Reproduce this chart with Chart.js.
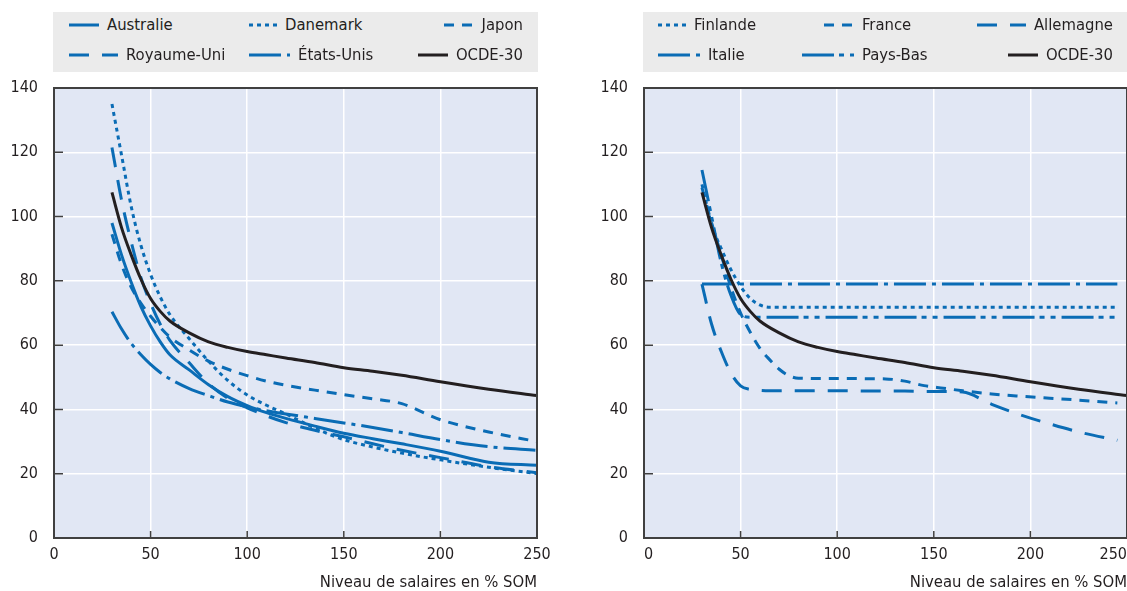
<!DOCTYPE html>
<html>
<head>
<meta charset="utf-8">
<script src="https://cdn.jsdelivr.net/npm/chart.js@4.4.1/dist/chart.umd.min.js"></script>
<style>
  html, body { margin: 0; padding: 0; background: #fff; }
  body { width: 1127px; height: 591px; position: relative; overflow: hidden;
         font-family: 'DejaVu Sans Condensed', 'Liberation Sans', sans-serif; color: #231f20; }
  .panel { position: absolute; top: 0; height: 591px; }
  .panel > canvas { position: absolute; left: 0; top: 0; }
  .legend { position: absolute; top: 12px; height: 60px; background: #ebebeb; z-index: 2; box-sizing: border-box; }
  .legend .grid { display: grid; grid-template-rows: 30px 30px; margin-top: -2px; align-items: center;
                  font-size: 16.5px; line-height: 20px; }
  .item { display: flex; align-items: center; white-space: nowrap; }
  .sw { display: inline-flex; margin-right: 8px; }
  .sw canvas { display: block; }
</style>
</head>
<body>
<div class="panel" style="left:0;width:560px">
  <canvas id="chartG" width="560" height="591"></canvas>
  <div class="legend" style="left:53px;width:485px"><div class="grid" id="legG" style="grid-template-columns:180px 1fr auto;padding:0 15px 0 16px"></div></div>
</div>
<div class="panel" style="left:590px;width:537px">
  <canvas id="chartD" width="537" height="591"></canvas>
  <div class="legend" style="left:53px;width:484px"><div class="grid" id="legD" style="grid-template-columns:142px 1fr auto;padding:0 14px 0 15px"></div></div>
</div>
<script>
// valeurs (niveau de salaire en % du SOM)
const xTicks = [0, 50, 100, 150, 200, 250];
const yTicks = [0, 20, 40, 60, 80, 100, 120, 140];

// panneau gauche
const salaireG   = [30, 35, 40, 45, 50, 55, 60, 70, 80, 90, 100, 110, 120, 135, 150, 165, 180, 200, 225, 250];
const ocde30     = [107.5, 96.5, 88, 80.5, 74.5, 70.5, 67.5, 63.8, 61, 59.3, 58, 57, 56, 54.6, 53, 51.9, 50.6, 48.6, 46.3, 44.3];
const australie  = [98, 88, 79.5, 72, 66, 61, 57, 52.3, 47.7, 44, 41.2, 39, 37.2, 34.8, 32.6, 30.9, 29.3, 27, 23.6, 22.6];
const danemark   = [135, 119, 103, 91, 82, 75, 69.5, 62, 55, 49, 44.5, 41.3, 38.6, 34.2, 30.6, 28.3, 26.4, 24.3, 22, 20];
const japon      = [94.5, 85, 78, 73, 69, 65.5, 62.5, 58.5, 55, 52.5, 50.5, 48.8, 47.5, 46, 44.6, 43.3, 41.8, 36.8, 33, 30];
const royaumeUni = [121.5, 105, 92, 81, 73, 66.5, 61.5, 54.5, 48, 43.5, 40.5, 38, 35.9, 33.5, 31.5, 29.3, 27.3, 25, 22.2, 20.3];
const etatsUnis  = [70.4, 65, 60.5, 57, 54, 51.5, 49.5, 46.5, 44.3, 42.3, 40.8, 39.6, 38.6, 37.2, 35.8, 34.4, 32.8, 30.6, 28.4, 27.3];

// panneau droit
const salaireD   = [30, 35, 40, 45, 50, 55, 60, 65, 70, 75, 80, 100, 125, 135, 145, 155, 165, 180, 195, 210, 225, 245];
const finlande   = [110, 97.5, 90, 83.5, 78.3, 74.5, 72.5, 71.8, 71.8, 71.8, 71.8, 71.8, 71.8, 71.8, 71.8, 71.8, 71.8, 71.8, 71.8, 71.8, 71.8, 71.8];
const france     = [109, 98, 88, 78, 70, 64, 59, 55.5, 52.5, 50.5, 49.7, 49.6, 49.5, 48.8, 47.4, 46.6, 45.8, 44.8, 44.1, 43.5, 42.9, 42];
const allemagne  = [79, 66.5, 58, 51.3, 47.3, 46.2, 45.9, 45.8, 45.8, 45.8, 45.8, 45.8, 45.7, 45.7, 45.6, 45.6, 45.4, 41.6, 38.3, 35.5, 33, 30.4];
const italie     = [79, 79, 79, 79, 79, 79, 79, 79, 79, 79, 79, 79, 79, 79, 79, 79, 79, 79, 79, 79, 79, 79];
const paysBas    = [114.5, 100, 85.5, 75.5, 69.5, 68.7, 68.7, 68.7, 68.7, 68.7, 68.7, 68.7, 68.7, 68.7, 68.7, 68.7, 68.7, 68.7, 68.7, 68.7, 68.7, 68.7];

const legendG = ['Australie', 'Danemark', 'Japon', 'Royaume-Uni', 'États-Unis', 'OCDE-30'];
const legendD = ['Finlande', 'France', 'Allemagne', 'Italie', 'Pays-Bas', 'OCDE-30'];

const BLUE = '#0a6cb5', BLACK = '#231f20', TEXT = '#231f20';
const PLOT_BG = '#e1e7f4', FRAME = '#404040';
const FONT = "'DejaVu Sans Condensed', 'Liberation Sans', sans-serif";

const styles = {
  'Australie':   { color: BLUE,  dash: [],                  swatch: 30 },
  'Danemark':    { color: BLUE,  dash: [4, 4],              swatch: 28 },
  'Japon':       { color: BLUE,  dash: [10, 8],             swatch: 30 },
  'Royaume-Uni': { color: BLUE,  dash: [20, 13],            swatch: 49 },
  'États-Unis':  { color: BLUE,  dash: [32, 6, 4, 6],       swatch: 41 },
  'OCDE-30':     { color: BLACK, dash: [],                  swatch: 30 },
  'Finlande':    { color: BLUE,  dash: [4, 4],              swatch: 28 },
  'France':      { color: BLUE,  dash: [10, 8],             swatch: 30 },
  'Allemagne':   { color: BLUE,  dash: [20, 13],            swatch: 49 },
  'Italie':      { color: BLUE,  dash: [32, 6, 4, 6],       swatch: 42 },
  'Pays-Bas':    { color: BLUE,  dash: [32, 5, 5, 6, 5, 6], swatch: 52 }
};

Chart.defaults.font.family = FONT;
Chart.defaults.font.size = 16;
Chart.defaults.color = TEXT;

// fond, cadre et petites graduations intérieures
const frame = {
  id: 'frame',
  beforeDraw(chart) {
    const { ctx, chartArea: a } = chart;
    ctx.save();
    ctx.fillStyle = PLOT_BG;
    ctx.fillRect(a.left, a.top, a.width, a.height);
    ctx.restore();
  },
  afterDatasetsDraw(chart) {
    const { ctx, chartArea: a, scales: { x, y } } = chart;
    ctx.save();
    ctx.strokeStyle = FRAME;
    ctx.lineWidth = 1.5;
    ctx.beginPath();
    y.ticks.forEach((t, i) => { const py = y.getPixelForTick(i); ctx.moveTo(a.left, py); ctx.lineTo(a.left + 9, py); });
    x.ticks.forEach((t, i) => { const px = x.getPixelForTick(i); ctx.moveTo(px, a.bottom); ctx.lineTo(px, a.bottom - 7); });
    ctx.stroke();
    ctx.lineWidth = 2;
    ctx.strokeRect(a.left, a.top, a.width, a.height);
    ctx.restore();
  }
};

function makeChart(id, series, padRight, align) {
  const datasets = series.map(s => ({
    label: s.name,
    data: s.xs.map((x, i) => ({ x, y: s.ys[i] })),
    borderColor: styles[s.name].color,
    borderDash: styles[s.name].dash,
    borderWidth: 3,
    borderCapStyle: 'butt',
    pointRadius: 0,
    fill: false,
    cubicInterpolationMode: 'monotone',
    order: s.name === 'OCDE-30' ? 0 : 1
  }));
  return new Chart(document.getElementById(id), {
    type: 'line',
    data: { datasets },
    options: {
      responsive: false, animation: false, devicePixelRatio: 1,
      layout: { padding: { top: 88, left: 0, right: 0, bottom: 0 } },
      plugins: { legend: { display: false }, tooltip: { enabled: false } },
      scales: {
        x: {
          type: 'linear', min: 0, max: 250,
          afterBuildTicks: s => { s.ticks = xTicks.map(v => ({ value: v })); },
          afterFit: s => { s.height = 53; s.paddingLeft = 0; s.paddingRight = padRight; },
          grid: { color: '#ffffff', lineWidth: 1.5, drawTicks: false },
          border: { display: false },
          ticks: { padding: 7, align, maxRotation: 0, autoSkip: false, font: { size: 16 } },
          title: { display: true, text: 'Niveau de salaires en % SOM', align: 'end',
                   font: { size: 16.5, lineHeight: 1 }, padding: { top: 0, bottom: 0 } }
        },
        y: {
          min: 0, max: 140,
          afterBuildTicks: s => { s.ticks = yTicks.map(v => ({ value: v })); },
          afterFit: s => { s.width = 54; },
          grid: { color: '#ffffff', lineWidth: 1.5, drawTicks: false },
          border: { display: false },
          ticks: { padding: 16, font: { size: 16 } }
        }
      }
    },
    plugins: [frame]
  });
}

function buildLegend(el, names, alignMid) {
  names.forEach((name, i) => {
    const col = i % 3, st = styles[name];
    const item = document.createElement('div');
    item.className = 'item';
    if (col === 2) item.style.justifySelf = 'end';
    const holder = document.createElement('span');
    holder.className = 'sw';
    if (col === 1 && alignMid) { holder.style.width = '54px'; holder.style.justifyContent = 'flex-end'; }
    const c = document.createElement('canvas');
    c.width = st.swatch; c.height = 6;
    const g = c.getContext('2d');
    g.strokeStyle = st.color; g.lineWidth = 3; g.setLineDash(st.dash);
    g.beginPath(); g.moveTo(0, 3); g.lineTo(st.swatch, 3); g.stroke();
    holder.appendChild(c);
    const t = document.createElement('span');
    t.textContent = name;
    item.append(holder, t);
    el.appendChild(item);
  });
}

makeChart('chartG', [
  { name: 'Australie', xs: salaireG, ys: australie },
  { name: 'Danemark', xs: salaireG, ys: danemark },
  { name: 'Japon', xs: salaireG, ys: japon },
  { name: 'Royaume-Uni', xs: salaireG, ys: royaumeUni },
  { name: 'États-Unis', xs: salaireG, ys: etatsUnis },
  { name: 'OCDE-30', xs: salaireG, ys: ocde30 }
], 23, 'center');

makeChart('chartD', [
  { name: 'Finlande', xs: salaireD, ys: finlande },
  { name: 'France', xs: salaireD, ys: france },
  { name: 'Allemagne', xs: salaireD, ys: allemagne },
  { name: 'Italie', xs: salaireD, ys: italie },
  { name: 'Pays-Bas', xs: salaireD, ys: paysBas },
  { name: 'OCDE-30', xs: salaireG, ys: ocde30 }
], 0, 'inner');

buildLegend(document.getElementById('legG'), legendG, false);
buildLegend(document.getElementById('legD'), legendD, true);
</script>
</body>
</html>
